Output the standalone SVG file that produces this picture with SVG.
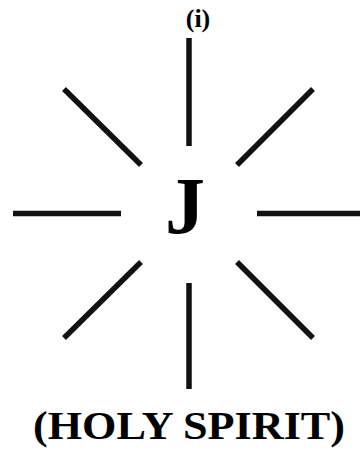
<svg xmlns="http://www.w3.org/2000/svg" width="360" height="451" viewBox="0 0 360 451">
<style>
.ray{stroke:#111;stroke-width:5.5;stroke-linecap:butt;fill:none}
.t{font-family:"Liberation Serif","Times New Roman",serif;font-weight:bold;fill:#000;text-anchor:middle}
</style>
<rect width="360" height="451" fill="#fff"/>
<g id="label-i"><text class="t" x="198" y="27" font-size="26">(i)</text></g>
<g id="connectors">
<line class="ray" x1="189" y1="38" x2="189" y2="146"/>
<line class="ray" x1="189" y1="283" x2="189" y2="389"/>
<line class="ray" x1="13" y1="213.5" x2="121" y2="213.5"/>
<line class="ray" x1="257" y1="213.5" x2="360" y2="213.5"/>
<line class="ray" x1="64" y1="89" x2="141" y2="165"/>
<line class="ray" x1="313" y1="89" x2="237" y2="165"/>
<line class="ray" x1="141" y1="262" x2="64" y2="338"/>
<line class="ray" x1="237" y1="262" x2="313" y2="338"/>
</g>
<g id="node-j"><text class="t" x="185" y="233" font-size="80">J</text></g>
<g id="label-holy-spirit"><text class="t" x="189" y="439" font-size="41" textLength="312" lengthAdjust="spacingAndGlyphs">(HOLY SPIRIT)</text></g>
</svg>
